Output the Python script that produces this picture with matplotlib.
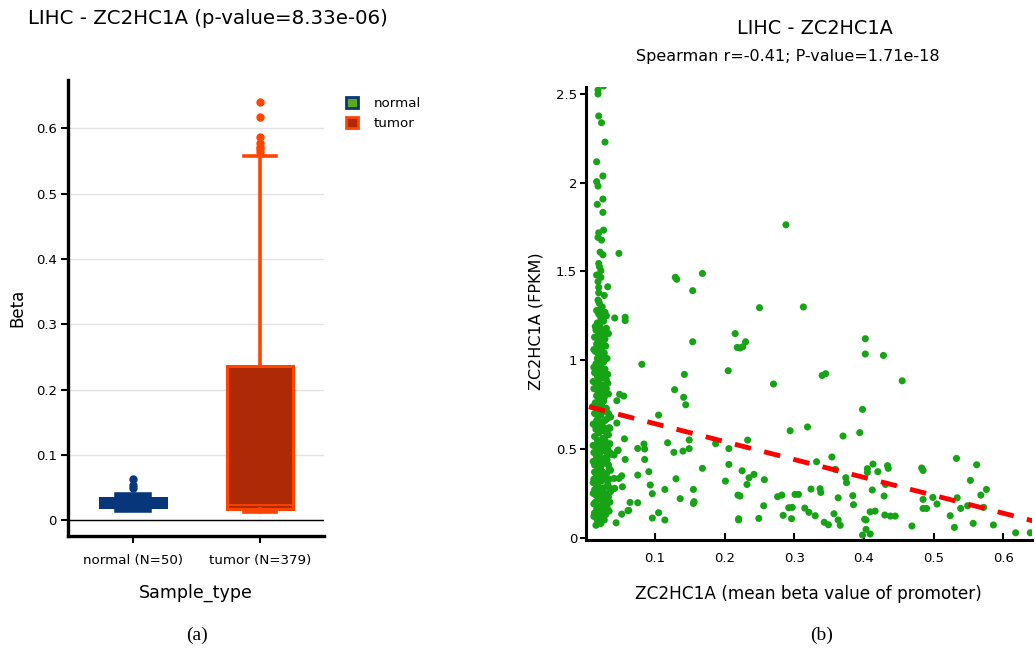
import numpy as np
import matplotlib
matplotlib.use("Agg")
import matplotlib.pyplot as plt
from matplotlib.patches import Patch

# ---- panel (a): boxplot of beta values ----
groups = ["normal (N=50)", "tumor (N=379)"]
legend_names = ["normal", "tumor"]
# whislo, q1, median, q3, whishi
normal_stats = [0.016, 0.020, 0.027, 0.034, 0.039]
tumor_stats = [0.013, 0.0173, 0.0234, 0.236, 0.558]
normal_out = [0.064, 0.054, 0.049]
tumor_out = [0.640, 0.618, 0.587, 0.577, 0.572, 0.568, 0.564]
pvalue_a = "8.33e-06"

# ---- panel (b): beta vs FPKM scatter ----
# dense column of low-beta samples
col_beta = [0.020, 0.024, 0.016, 0.028, 0.019, 0.022, 0.026, 0.017, 0.021, 0.030, 0.015, 0.024, 0.019, 0.027,
            0.013, 0.022, 0.018, 0.025, 0.016, 0.029, 0.020, 0.023, 0.014, 0.027, 0.019, 0.024, 0.017, 0.021,
            0.026, 0.015, 0.022, 0.018, 0.028, 0.020, 0.013, 0.025, 0.017, 0.023, 0.030, 0.019, 0.015, 0.026,
            0.021, 0.012, 0.024, 0.018, 0.028, 0.016, 0.022, 0.019, 0.026, 0.014, 0.023, 0.017, 0.029, 0.020,
            0.025, 0.013, 0.022, 0.018, 0.031, 0.016, 0.024, 0.011, 0.020, 0.027, 0.015, 0.022, 0.019, 0.033,
            0.013, 0.025, 0.017, 0.021, 0.029, 0.014, 0.023, 0.018, 0.026, 0.012, 0.020, 0.031, 0.016, 0.024,
            0.019, 0.027, 0.013, 0.022, 0.034, 0.017, 0.025, 0.015, 0.021, 0.029, 0.012, 0.023, 0.018, 0.032,
            0.016, 0.026, 0.013, 0.020, 0.028, 0.015, 0.023, 0.018, 0.030, 0.014, 0.025, 0.019, 0.021, 0.016,
            0.027, 0.013, 0.022, 0.018, 0.024, 0.017, 0.020, 0.015,
            0.030, 0.014, 0.028, 0.012, 0.031, 0.012, 0.032, 0.011, 0.030, 0.027, 0.011, 0.033, 0.028, 0.014,
            0.030, 0.028, 0.011, 0.032, 0.015, 0.028, 0.011, 0.033, 0.019, 0.013, 0.030, 0.026, 0.011, 0.035,
            0.021, 0.011, 0.033, 0.026, 0.012, 0.031, 0.023, 0.029, 0.012, 0.027, 0.022, 0.031, 0.034, 0.036,
            0.035, 0.034, 0.036, 0.037, 0.035, 0.034, 0.036, 0.033, 0.032, 0.033, 0.018, 0.020, 0.024, 0.017,
            0.023, 0.021, 0.026, 0.019,
            0.026, 0.018, 0.018, 0.019, 0.023, 0.028, 0.016, 0.025, 0.016, 0.018, 0.025, 0.017, 0.025, 0.026,
            0.019, 0.018, 0.023, 0.021, 0.025, 0.019, 0.020, 0.022, 0.016, 0.022, 0.018, 0.032, 0.019, 0.019,
            0.027, 0.018, 0.019, 0.021, 0.030]
col_fpkm = [1.32, 1.30, 1.28, 1.27, 1.26, 1.24, 1.22, 1.21, 1.19, 1.18, 1.17, 1.16, 1.15, 1.14,
            1.13, 1.12, 1.11, 1.10, 1.09, 1.08, 1.07, 1.06, 1.05, 1.04, 1.03, 1.02, 1.01, 1.00,
            0.99, 0.98, 0.97, 0.96, 0.95, 0.94, 0.93, 0.92, 0.91, 0.90, 0.89, 0.88, 0.87, 0.86,
            0.85, 0.84, 0.83, 0.82, 0.81, 0.80, 0.79, 0.78, 0.77, 0.76, 0.75, 0.74, 0.73, 0.72,
            0.71, 0.70, 0.69, 0.68, 0.67, 0.66, 0.65, 0.64, 0.63, 0.62, 0.61, 0.60, 0.59, 0.58,
            0.57, 0.56, 0.55, 0.54, 0.53, 0.52, 0.51, 0.50, 0.49, 0.48, 0.47, 0.46, 0.45, 0.44,
            0.43, 0.42, 0.41, 0.40, 0.39, 0.38, 0.37, 0.36, 0.35, 0.34, 0.33, 0.32, 0.31, 0.30,
            0.29, 0.28, 0.27, 0.26, 0.25, 0.24, 0.23, 0.22, 0.21, 0.20, 0.19, 0.18, 0.17, 0.16,
            0.15, 0.14, 0.13, 0.12, 0.11, 0.10, 0.09, 0.07,
            1.25, 1.19, 1.12, 1.06, 1.01, 0.96, 0.92, 0.88, 0.84, 0.79, 0.74, 0.70, 0.66, 0.63,
            0.59, 0.55, 0.52, 0.50, 0.47, 0.45, 0.43, 0.41, 0.39, 0.37, 0.36, 0.33, 0.31, 0.28,
            0.27, 0.25, 0.23, 0.21, 0.19, 0.17, 0.15, 0.13, 0.12, 0.10, 0.08, 0.44, 0.33, 0.26,
            0.20, 0.15, 0.38, 0.47, 0.53, 0.62, 0.68, 0.81, 0.87, 1.15, 0.45, 0.36, 0.28, 0.34,
            0.42, 0.22, 0.18, 0.14,
            2.545, 2.522, 2.500, 2.376, 2.338, 2.229, 2.118, 2.038, 2.006, 1.981, 1.908, 1.878, 1.833, 1.733,
            1.718, 1.692, 1.677, 1.609, 1.594, 1.545, 1.527, 1.504, 1.480, 1.467, 1.443, 1.414, 1.410, 1.380,
            1.365, 1.339, 1.330, 1.286, 1.151]
# scattered samples
spread_beta = [0.048, 0.042, 0.057, 0.057, 0.081, 0.129, 0.131, 0.168, 0.154, 0.154, 0.128, 0.142, 0.141, 0.144,
               0.250, 0.313, 0.288, 0.215, 0.218, 0.222, 0.226, 0.230, 0.205, 0.270, 0.340, 0.345, 0.402, 0.402,
               0.428, 0.455, 0.398, 0.394, 0.370, 0.319, 0.294, 0.105, 0.045, 0.049, 0.055, 0.045, 0.056, 0.046,
               0.057, 0.041, 0.048, 0.052, 0.053, 0.042, 0.064, 0.061, 0.052, 0.044, 0.075, 0.075, 0.084, 0.085,
               0.085, 0.091, 0.075, 0.093, 0.096, 0.096, 0.105, 0.114, 0.114, 0.118, 0.127, 0.130, 0.136, 0.140,
               0.149, 0.149, 0.155, 0.155, 0.156, 0.168, 0.187, 0.206, 0.206, 0.201, 0.225, 0.233, 0.235, 0.242,
               0.232, 0.257, 0.219, 0.222, 0.220, 0.220, 0.249, 0.256, 0.276, 0.282, 0.284, 0.292, 0.297, 0.296,
               0.301, 0.306, 0.315, 0.321, 0.324, 0.330, 0.332, 0.337, 0.338, 0.343, 0.349, 0.354, 0.357, 0.359,
               0.363, 0.363, 0.366, 0.374, 0.375, 0.384, 0.385, 0.398, 0.403, 0.409, 0.401, 0.403, 0.405, 0.405,
               0.409, 0.416, 0.412, 0.413, 0.420, 0.431, 0.429, 0.434, 0.435, 0.430, 0.438, 0.445, 0.469, 0.483,
               0.485, 0.485, 0.485, 0.490, 0.499, 0.505, 0.524, 0.530, 0.533, 0.534, 0.539, 0.549, 0.553, 0.557,
               0.562, 0.568, 0.572, 0.576, 0.586, 0.618, 0.639, 0.030, 0.035, 0.047, 0.041, 0.035, 0.062]
spread_fpkm = [1.602, 1.238, 1.242, 1.223, 0.977, 1.467, 1.456, 1.489, 1.392, 1.104, 0.834, 0.920, 0.791, 0.749,
               1.296, 1.300, 1.763, 1.150, 1.072, 1.069, 1.076, 1.104, 0.941, 0.866, 0.914, 0.924, 1.121, 1.035,
               1.027, 0.884, 0.723, 0.592, 0.573, 0.624, 0.603, 0.691, 0.772, 0.808, 0.798, 0.646, 0.557, 0.490,
               0.441, 0.334, 0.334, 0.349, 0.287, 0.278, 0.199, 0.152, 0.133, 0.084, 0.197, 0.503, 0.528, 0.500,
               0.441, 0.372, 0.353, 0.297, 0.248, 0.111, 0.141, 0.100, 0.272, 0.535, 0.481, 0.332, 0.220, 0.488,
               0.502, 0.551, 0.272, 0.193, 0.203, 0.391, 0.530, 0.502, 0.413, 0.319, 0.377, 0.550, 0.338, 0.357,
               0.300, 0.327, 0.240, 0.235, 0.100, 0.107, 0.109, 0.180, 0.231, 0.240, 0.126, 0.169, 0.171, 0.107,
               0.244, 0.244, 0.167, 0.143, 0.274, 0.124, 0.428, 0.276, 0.255, 0.087, 0.073, 0.455, 0.135, 0.385,
               0.225, 0.100, 0.070, 0.338, 0.310, 0.237, 0.186, 0.015, 0.047, 0.021, 0.104, 0.100, 0.389, 0.368,
               0.146, 0.150, 0.269, 0.415, 0.372, 0.300, 0.235, 0.406, 0.391, 0.128, 0.122, 0.122, 0.066, 0.393,
               0.379, 0.216, 0.165, 0.165, 0.227, 0.190, 0.124, 0.058, 0.447, 0.225, 0.165, 0.180, 0.323, 0.081,
               0.411, 0.240, 0.171, 0.272, 0.072, 0.028, 0.028, 0.728, 0.616, 0.494, 0.466, 0.479, 0.154]
fit_intercept = 0.743
fit_slope = -1.008
spearman_r = -0.41
pvalue_b = "1.71e-18"

blue = "#08367b"
green_leg = "#5ea81e"
tumor_fill = "#ae2a07"
tumor_edge = "#ff4500"
dot_green = "#16a316"

fig = plt.figure(figsize=(10.35, 6.5), dpi=100)

# ------------------------ (a) ------------------------
ax1 = fig.add_axes([68/1035, 1-536/650, 256/1035, 456/650])
stats = []
for name, s, out in [(groups[0], normal_stats, normal_out), (groups[1], tumor_stats, tumor_out)]:
    stats.append(dict(label=name, whislo=s[0], q1=s[1], med=s[2], q3=s[3], whishi=s[4], fliers=out))

bp = ax1.bxp(stats, positions=[0, 1], widths=0.52, patch_artist=True, showfliers=True,
             capwidths=0.25)
cols = [(blue, blue), (tumor_fill, tumor_edge)]
for i, (fc, ec) in enumerate(cols):
    bp['boxes'][i].set_facecolor(fc)
    bp['boxes'][i].set_edgecolor(ec)
    bp['boxes'][i].set_linewidth(2.2)
    bp['medians'][i].set_color(ec)
    bp['medians'][i].set_linewidth(1.2)
    for w in bp['whiskers'][2*i:2*i+2]:
        w.set_color(ec)
        w.set_linewidth(2.6)
    for c in bp['caps'][2*i:2*i+2]:
        c.set_color(ec)
        c.set_linewidth(2.6)
    f = bp['fliers'][i]
    f.set_marker('o')
    f.set_markerfacecolor(ec)
    f.set_markeredgecolor(ec)
    f.set_markersize(5)
bp['caps'][0].set_linewidth(4)
bp['caps'][1].set_linewidth(4)

ax1.set_xlim(-0.51, 1.5)
ax1.set_ylim(-0.024, 0.674)
ax1.set_yticks([0, 0.1, 0.2, 0.3, 0.4, 0.5, 0.6])
ax1.set_yticklabels(["0", "0.1", "0.2", "0.3", "0.4", "0.5", "0.6"], fontsize=9.5)
ax1.set_xticks([0, 1])
ax1.set_xticklabels(groups, fontsize=9.6)
ax1.grid(axis='y', color='#e3e3e3', linewidth=1)
ax1.set_axisbelow(True)
ax1.axhline(0, color='black', linewidth=1, zorder=1)
for sp in ['top', 'right']:
    ax1.spines[sp].set_visible(False)
ax1.spines['left'].set_linewidth(2.4)
ax1.spines['bottom'].set_linewidth(2.4)
ax1.tick_params(axis='both', direction='out', length=5, width=1.5, pad=3)
ax1.tick_params(axis='x', pad=8)

fig.text(28/1035, 1-18/650, "LIHC - ZC2HC1A (p-value=%s)" % pvalue_a, fontsize=14.2, va='center', ha='left')
fig.text(17/1035, 1-308/650, "Beta", fontsize=12, rotation=90, va='center', ha='center')
fig.text(196/1035, 1-593/650, "Sample_type", fontsize=12.6, va='center', ha='center')

handles = [Patch(facecolor=green_leg, edgecolor=blue, linewidth=2),
           Patch(facecolor=tumor_fill, edgecolor=tumor_edge, linewidth=2)]
fig.legend(handles, legend_names, loc='upper left', bbox_to_anchor=(334/1035, 1-85/650), frameon=False,
           fontsize=9.6, handlelength=0.9, handleheight=0.9, handletextpad=1.2, labelspacing=0.5)

# ------------------------ (b) ------------------------
ax2 = fig.add_axes([585.5/1035, 1-539.5/650, 446.5/1035, 452.8/650])
xs = np.array(col_beta + spread_beta)
ys = np.array(col_fpkm + spread_fpkm)
ax2.scatter(xs, ys, s=26, color=dot_green, edgecolors='none', zorder=2)
xl = (0, 0.6415)
line_x = np.array([0.005, xl[1] + 0.01])
ax2.plot(line_x, fit_intercept + fit_slope * line_x, color='#ff0000', linewidth=3.5,
         dashes=(3.4, 2.8), solid_capstyle='butt', dash_capstyle='butt', zorder=3)
ax2.set_xlim(*xl)
ax2.set_ylim(-0.01, 2.541)
ax2.set_xticks([0.1, 0.2, 0.3, 0.4, 0.5, 0.6])
ax2.set_xticklabels(["0.1", "0.2", "0.3", "0.4", "0.5", "0.6"], fontsize=9.5)
ax2.set_yticks([0, 0.5, 1, 1.5, 2, 2.5])
ax2.set_yticklabels(["0", "0.5", "1", "1.5", "2", "2.5"], fontsize=9.5)
for sp in ['top', 'right']:
    ax2.spines[sp].set_visible(False)
ax2.spines['left'].set_linewidth(2.2)
ax2.spines['bottom'].set_linewidth(2.2)
ax2.tick_params(axis='y', direction='out', length=4, width=1.5, pad=2)
ax2.tick_params(axis='x', direction='in', length=5, width=1.5, pad=9)

fig.text(815/1035, 1-28/650, "LIHC - ZC2HC1A", fontsize=13.9, va='center', ha='center')
fig.text(788/1035, 1-57/650, "Spearman r=%.2f; P-value=%s" % (spearman_r, pvalue_b),
         fontsize=11.5, va='center', ha='center')
fig.text(808/1035, 1-594/650, "ZC2HC1A (mean beta value of promoter)", fontsize=12.2, va='center', ha='center')
fig.text(536/1035, 1-321/650, "ZC2HC1A (FPKM)", fontsize=11.5, rotation=90, va='center', ha='center')

fig.text(197/1035, 1-635/650, "(a)", fontsize=14, family='Liberation Serif', va='center', ha='center')
fig.text(822/1035, 1-635/650, "(b)", fontsize=14, family='Liberation Serif', va='center', ha='center')

fig.savefig("out.png", dpi=100)
